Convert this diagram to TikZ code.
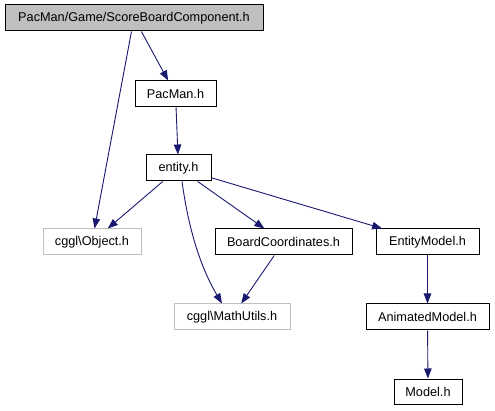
\documentclass[tikz,border=0pt]{standalone}
\usepackage{fontspec}
\setmainfont{Liberation Sans}
\usetikzlibrary{arrows.meta}
\definecolor{edgeblue}{HTML}{191970}
\definecolor{lightgray}{HTML}{BFBFBF}
\tikzset{
  box/.style={draw=black, line width=1pt, fill=white, inner sep=0pt, minimum height=26pt, font=\fontsize{12.7}{14}\selectfont},
  graybox/.style={box, draw=lightgray},
  topbox/.style={box, fill=lightgray},
  edge/.style={draw=edgeblue, line width=0.9pt, -{Triangle[length=10pt,width=7.5pt]}},
}
\begin{document}
\begin{tikzpicture}[x=1pt,y=-1pt]
\useasboundingbox (0,0) rectangle (495,411);
\node[topbox, minimum width=258pt] (top) at (134,18) {PacMan/Game/ScoreBoardComponent.h};
\node[box, minimum width=81pt] (pacman) at (175.5,94) {PacMan.h};
\node[box, minimum width=65pt] (entity) at (178.5,168) {entity.h};
\node[graybox, minimum width=98pt] (object) at (92,242) {cggl\textbackslash Object.h};
\node[box, minimum width=137pt] (board) at (283.5,242) {BoardCoordinates.h};
\node[box, minimum width=103pt] (emodel) at (427.5,242) {EntityModel.h};
\node[graybox, minimum width=116pt] (math) at (232,317) {cggl\textbackslash MathUtils.h};
\node[box, minimum width=123pt] (amodel) at (427.5,317) {AnimatedModel.h};
\node[box, minimum width=68pt, minimum height=25pt] (model) at (428,391.5) {Model.h};

\draw[edge] (top) -- (pacman);
\draw[edge] (top) -- (object);
\draw[edge] (pacman) -- (entity);
\draw[edge] (entity) -- (object);
\draw[edge] (entity) -- (board);
\draw[edge] (entity) -- (emodel);
\draw[edge] ([xshift=3.5pt]entity.south) .. controls (190,240) and (205,275) .. ([xshift=-10pt]math.north);
\draw[edge] (board) -- (math);
\draw[edge] (emodel) -- (amodel);
\draw[edge] (amodel) -- (model);
\end{tikzpicture}
\end{document}
